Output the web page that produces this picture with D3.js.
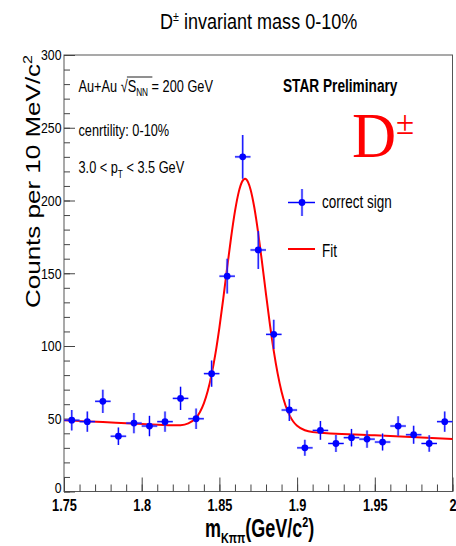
<!DOCTYPE html>
<html lang="en">
<head>
<meta charset="UTF-8">
<title>D± invariant mass 0-10%</title>
<script src="https://d3js.org/d3.v7.min.js"></script>
<style>
  body { margin: 0; background: #fff; }
  svg { display: block; }
  .axis path, .axis line { stroke: #444; }
  .axis text { fill: #000; }
</style>
</head>
<body>
<div id="chart"></div>
<script>
// bin centres (GeV/c^2), counts and vertical errors
const massBins = [1.755, 1.765, 1.775, 1.785, 1.795, 1.805, 1.815, 1.825, 1.835, 1.845,
                  1.855, 1.865, 1.875, 1.885, 1.895, 1.905, 1.915, 1.925, 1.935, 1.945,
                  1.955, 1.965, 1.975, 1.985, 1.995];
const counts = [49, 48, 62, 38, 47, 45, 48, 64, 50, 81,
                148, 230, 166, 108, 56, 30, 42, 33, 37, 36,
                34, 45, 39, 33, 48];
const countErrors = [7, 7, 8, 6, 7, 7, 7, 8, 7, 9,
                     12, 15, 13, 10, 7.5, 5.5, 6.5, 5.8, 6, 6,
                     5.8, 6.7, 6.2, 5.7, 7];
const binWidth = 0.01;

// fit curve
const fitMass = [1.75, 1.775, 1.80, 1.82, 1.825, 1.83, 1.835, 1.8375, 1.84, 1.8425, 1.845, 1.8475,
                 1.85, 1.8525, 1.855, 1.8575, 1.86, 1.8625, 1.8645, 1.8665, 1.8685, 1.87, 1.8725,
                 1.875, 1.8775, 1.88, 1.8825, 1.885, 1.8875, 1.89, 1.8925, 1.895, 1.8975, 1.90,
                 1.905, 1.91, 1.95, 2.0];
const fitCounts = [49, 47.7, 46.4, 45.5, 45.6, 46.8, 50.7, 54.7, 60.6, 69, 80.5, 95.1,
                   112.7, 132.7, 153.8, 174.4, 192.5, 206.1, 212.7, 214.9, 212.5, 207.8, 195,
                   177.4, 157, 135.5, 114.9, 96.5, 81, 68.6, 59.3, 52.7, 48.1, 45.2,
                   42.1, 40.9, 38.6, 36];

const xTicks = [1.75, 1.8, 1.85, 1.9, 1.95, 2];
const yTicks = [0, 50, 100, 150, 200, 250, 300];

const W = 456, H = 546;
const frame = { left: 64, right: 452.5, top: 55, bottom: 491.5 };
const sans = "'Liberation Sans', Arial, Helvetica, sans-serif";
const serif = "'Liberation Serif', 'Times New Roman', serif";

const svg = d3.select("#chart").append("svg")
    .attr("width", W).attr("height", H)
    .attr("viewBox", `0 0 ${W} ${H}`);

svg.append("rect").attr("width", W).attr("height", H).attr("fill", "#fff");

const x = d3.scaleLinear().domain([1.75, 2]).range([frame.left, frame.right]);
const y = d3.scaleLinear().domain([0, 300]).range([frame.bottom, frame.top]);

// squeezed text helper: the picture is compressed horizontally
function label(x0, y0, sx, size, opts = {}) {
    const g = svg.append("g").attr("transform", `translate(${x0},${y0}) scale(${sx},1)` + (opts.rotate ? ` rotate(${opts.rotate})` : ""));
    const t = g.append("text")
        .attr("font-family", opts.family || sans)
        .attr("font-size", size)
        .attr("font-weight", opts.bold ? "bold" : "normal")
        .attr("fill", opts.fill || "#000")
        .attr("text-anchor", opts.anchor || "start");
    return { g, t };
}

// frame
svg.append("rect")
    .attr("x", frame.left).attr("y", frame.top)
    .attr("width", frame.right - frame.left).attr("height", frame.bottom - frame.top)
    .attr("fill", "none").attr("stroke", "#555").attr("stroke-width", 1);

// minor ticks
svg.append("g").attr("class", "axis")
    .attr("transform", `translate(${frame.left},0)`)
    .call(d3.axisLeft(y).tickValues(d3.range(0, 301, 10)).tickSize(-6).tickFormat(""))
    .call(g => g.select(".domain").remove());
svg.append("g").attr("class", "axis")
    .attr("transform", `translate(0,${frame.bottom})`)
    .call(d3.axisBottom(x).tickValues(d3.range(1.75, 2.0001, 0.01)).tickSize(-7).tickFormat(""))
    .call(g => g.select(".domain").remove());

// major ticks + labels
const yAxis = svg.append("g").attr("class", "axis")
    .attr("transform", `translate(${frame.left},0)`)
    .call(d3.axisLeft(y).tickValues(yTicks).tickSize(-11).tickPadding(3).tickFormat(d3.format("d")))
    .call(g => g.select(".domain").remove());
yAxis.selectAll("text")
    .attr("font-family", sans).attr("font-size", 15)
    .attr("transform", "scale(0.82,1)");
// the "0" sits a little above its tick so it clears the 1.75 label
yAxis.selectAll(".tick").filter(d => d === 0).select("text").attr("dy", "0.05em");

const xAxis = svg.append("g").attr("class", "axis")
    .attr("transform", `translate(0,${frame.bottom})`)
    .call(d3.axisBottom(x).tickValues(xTicks).tickSize(-14).tickPadding(7).tickFormat(d => d3.format("")(+d.toFixed(2))))
    .call(g => g.select(".domain").remove());
xAxis.selectAll("text")
    .attr("font-family", sans).attr("font-size", 17).attr("font-weight", "bold")
    .attr("transform", "scale(0.75,1)");

// axis titles
{
    const { t } = label(40, 55, 0.75, 26, { rotate: -90, anchor: "end" });
    t.text("Counts per 10 MeV/c");
    t.append("tspan").attr("font-size", 16).attr("dy", -11).text("2");
}
{
    const { t } = label(205, 537, 0.72, 25, { bold: true });
    t.append("tspan").text("m");
    t.append("tspan").attr("font-size", 15).attr("dy", 6).text("Kππ");
    t.append("tspan").attr("dy", -6).text("(GeV/c");
    t.append("tspan").attr("font-size", 15).attr("dy", -10).text("2");
    t.append("tspan").attr("dy", 10).text(")");
}

// title
{
    const { t } = label(160, 29, 0.82, 22);
    t.append("tspan").text("D");
    t.append("tspan").attr("font-size", 13).attr("dy", -8).text("±");
    t.append("tspan").attr("dy", 8).text(" invariant mass 0-10%");
}

// annotations
{
    const { g, t } = label(78.5, 92, 0.75, 17);
    t.append("tspan").text("Au+Au ");
    t.append("tspan").text("√");
    t.append("tspan").text("S");
    t.append("tspan").attr("font-size", 11).attr("dy", 4).text("NN");
    t.append("tspan").attr("dy", -4).text(" = 200 GeV");
    const node = t.node();
    const s0 = node.getStartPositionOfChar(7).x;
    const s1 = node.getEndPositionOfChar(10).x;
    g.append("line").attr("x1", s0 - 1).attr("x2", s1 + 1).attr("y1", -15).attr("y2", -15)
        .attr("stroke", "#000").attr("stroke-width", 1);
}
label(78.5, 136, 0.75, 17).t.text("cenrtility: 0-10%");
{
    const { t } = label(78.5, 173, 0.75, 17);
    t.append("tspan").text("3.0 < p");
    t.append("tspan").attr("font-size", 11).attr("dy", 5).text("T");
    t.append("tspan").attr("dy", -5).text(" < 3.5 GeV");
}
label(283, 92, 0.76, 18, { bold: true }).t.text("STAR Preliminary");
{
    const { t } = label(352, 157, 0.97, 63, { family: serif, fill: "#ff0000" });
    t.append("tspan").text("D");
    t.append("tspan").attr("font-size", 34).attr("dy", -23).text("±");
}

// fit curve
const line = d3.line()
    .x((d, i) => x(fitMass[i]))
    .y(d => y(d))
    .curve(d3.curveMonotoneX);
svg.append("path")
    .datum(fitCounts)
    .attr("d", line)
    .attr("fill", "none")
    .attr("stroke", "#ff0000")
    .attr("stroke-width", 2);

// data points with error bars
function drawPoint(g, cx, cy, x0, x1, y0, y1) {
    [["#8080ff", 2.6, 0.5], ["#0000ff", 1.1, 1]].forEach(([c, w, o]) => {
        g.append("line").attr("x1", x0).attr("x2", x1).attr("y1", cy).attr("y2", cy)
            .attr("stroke", c).attr("stroke-width", w).attr("stroke-opacity", o);
        g.append("line").attr("x1", cx).attr("x2", cx).attr("y1", y0).attr("y2", y1)
            .attr("stroke", c).attr("stroke-width", w).attr("stroke-opacity", o);
    });
    g.append("circle").attr("cx", cx).attr("cy", cy).attr("r", 3.4).attr("fill", "#0000ff");
}

const pts = svg.append("g");
massBins.forEach((m, i) => {
    const g = pts.append("g");
    drawPoint(g, x(m), y(counts[i]),
        Math.max(frame.left, x(m - binWidth / 2)), Math.min(frame.right, x(m + binWidth / 2)),
        y(counts[i] - countErrors[i]), y(counts[i] + countErrors[i]));
});

// legend
const leg = svg.append("g");
drawPoint(leg, 302, 202.5, 288, 315, 189, 216);
label(322, 208, 0.75, 18).t.text("correct sign");
leg.append("line").attr("x1", 288).attr("x2", 315).attr("y1", 249).attr("y2", 249)
    .attr("stroke", "#ff0000").attr("stroke-width", 2);
label(322, 257, 0.75, 18).t.text("Fit");
</script>
</body>
</html>
